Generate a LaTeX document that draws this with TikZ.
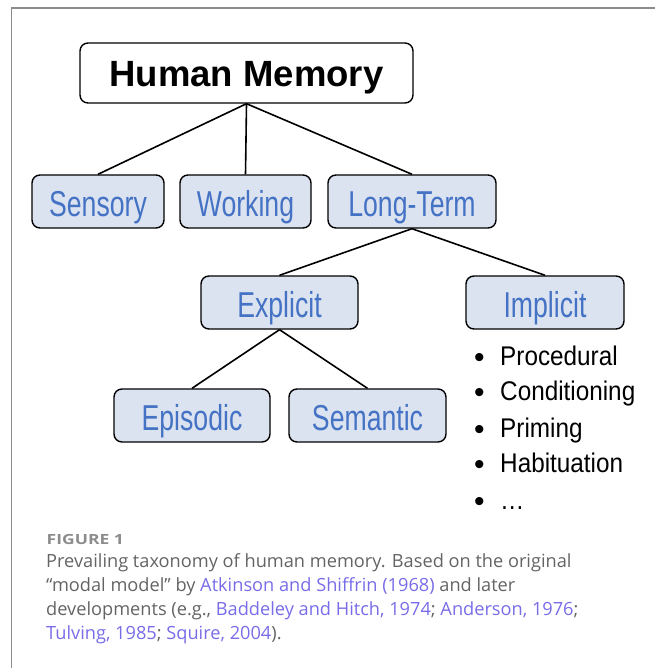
\documentclass[tikz,border=0pt]{standalone}
\usepackage{fontspec}
\setmainfont{Liberation Sans}
\newfontfamily\capfont{Open Sans}
\usetikzlibrary{positioning}
\definecolor{boxfill}{RGB}{220,227,240}
\definecolor{boxtext}{RGB}{68,114,196}
\definecolor{capgray}{RGB}{100,100,100}
\definecolor{caplink}{RGB}{120,108,232}
\definecolor{framegray}{RGB}{140,140,140}
\newcommand{\narrowtext}[2]{\scalebox{#1}[1]{#2}}

\begin{document}
\begin{tikzpicture}[x=1pt,y=-1pt,
    mem/.style={draw,line width=1.4pt,rounded corners=8pt,fill=boxfill,
      text=boxtext,minimum height=53pt,inner sep=0pt,
      text height=30pt,text depth=0pt,
      font=\fontsize{36}{40}\selectfont},
    top/.style={draw,line width=1.4pt,rounded corners=8pt,fill=white,
      minimum width=333pt,minimum height=60pt,inner sep=0pt,
      text height=27.4pt,text depth=0pt,
      font=\fontsize{36.5}{40}\selectfont\bfseries},
    link/.style={line width=1.6pt},
    item/.style={anchor=base west,inner sep=0pt,font=\fontsize{27}{30}\selectfont},
    capline/.style={anchor=base west,inner sep=0pt,text=capgray,
      font=\capfont\fontsize{18.2}{20}\selectfont}]
  \useasboundingbox (0,0) rectangle (655,668);
  \draw[framegray,line width=1.5pt] (11.5,668) -- (11.5,8) -- (655,8);

  \node[top] (Hm) at (246.5,73) {Human Memory};
  \node[mem,minimum width=132pt] (Sen) at (98,201.5) {\narrowtext{0.74}{Sensory}};
  \node[mem,minimum width=131pt] (Wor) at (245.5,201.5) {\narrowtext{0.74}{Working}};
  \node[mem,minimum width=168pt] (Lt) at (412,201.5) {\narrowtext{0.74}{Long-Term}};
  \node[mem,minimum width=157pt] (Exp) at (279.5,302.5) {\narrowtext{0.74}{Explicit}};
  \node[mem,minimum width=158pt] (Imp) at (545,302.5) {\narrowtext{0.74}{Implicit}};
  \node[mem,minimum width=156pt] (Epi) at (192,415.5) {\narrowtext{0.74}{Episodic}};
  \node[mem,minimum width=157pt] (Sem) at (367.5,415.5) {\narrowtext{0.74}{Semantic}};

  \foreach \a/\b in {Hm/Sen,Hm/Wor,Hm/Lt,Lt/Exp,Lt/Imp,Exp/Epi,Exp/Sem}
    \draw[link] (\a.south) -- (\b.north);

  % implicit memory list
  \foreach \t/\y [count=\i] in {Procedural/365,Conditioning/400,Priming/437,
                                Habituation/472,\ldots/509}
    {
      \node[item,font=\fontsize{30}{32}\selectfont] (B\i) at (474,\y+2) {\textbullet};
      \node[item] (I\i) at (500,\y) {\narrowtext{0.9}{\t}};
    }

  \node[anchor=base west,inner sep=0pt,text=framegray,
        font=\capfont\bfseries\fontsize{14}{16}\selectfont] (Fig) at (46.5,544.5)
    {\narrowtext{1.25}{FIGURE 1}};
  \node[capline] (Cap1) at (46,567.7)
    {Prevailing taxonomy of human memory. Based on the original};
  \node[capline] (Cap2) at (46,591.7)
    {“modal model” by \textcolor{caplink}{Atkinson and Shiffrin (1968)} and later};
  \node[capline] (Cap3) at (46,615.7)
    {developments (e.g., \textcolor{caplink}{Baddeley and Hitch, 1974}; \textcolor{caplink}{Anderson, 1976};};
  \node[capline] (Cap4) at (46,639.7)
    {\textcolor{caplink}{Tulving, 1985}; \textcolor{caplink}{Squire, 2004}).};
\end{tikzpicture}
\end{document}
